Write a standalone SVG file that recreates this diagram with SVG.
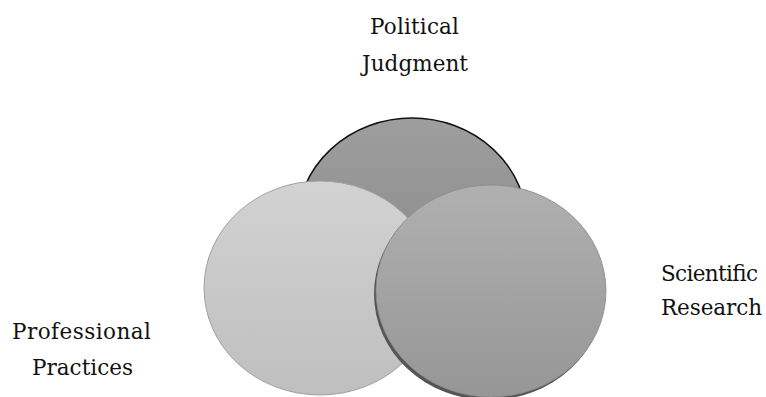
<svg xmlns="http://www.w3.org/2000/svg" width="766" height="397" viewBox="0 0 766 397">
<defs>
<linearGradient id="gTop" x1="0" y1="0" x2="0" y2="1"><stop offset="0" stop-color="#9e9e9e"/><stop offset="1" stop-color="#848484"/></linearGradient>
<linearGradient id="gLeft" x1="0" y1="0" x2="0" y2="1"><stop offset="0" stop-color="#d2d2d2"/><stop offset="1" stop-color="#bfbfbf"/></linearGradient>
<linearGradient id="gRight" x1="0" y1="0" x2="0" y2="1"><stop offset="0" stop-color="#b0b0b0"/><stop offset="1" stop-color="#969696"/></linearGradient>
</defs>
<style>
text{font-family:"DejaVu Serif","Liberation Serif",serif;font-size:21.5px;fill:#111}
</style>
<rect width="766" height="397" fill="#fff"/>
<g id="political">
<ellipse cx="412" cy="225" rx="115" ry="107" fill="url(#gTop)" stroke="#111" stroke-width="1.5"/>
</g>
<g id="professional">
<ellipse cx="320" cy="288" rx="116" ry="107" fill="url(#gLeft)" stroke="#a0a0a0" stroke-width="1"/>
</g>
<g id="scientific">
<ellipse cx="489" cy="294" rx="115" ry="106" fill="#555"/>
<ellipse cx="491" cy="291" rx="115" ry="106" fill="url(#gRight)" stroke="#8a8a8a" stroke-width="0.8"/>
</g>
<g id="labels">
<text x="370" y="34" textLength="89">Political</text>
<text x="362" y="71" textLength="106">Judgment</text>
<text x="661" y="281" textLength="97">Scientific</text>
<text x="661" y="315" textLength="101">Research</text>
<text x="12" y="339" textLength="139">Professional</text>
<text x="32" y="375" textLength="101">Practices</text>
</g>
</svg>
